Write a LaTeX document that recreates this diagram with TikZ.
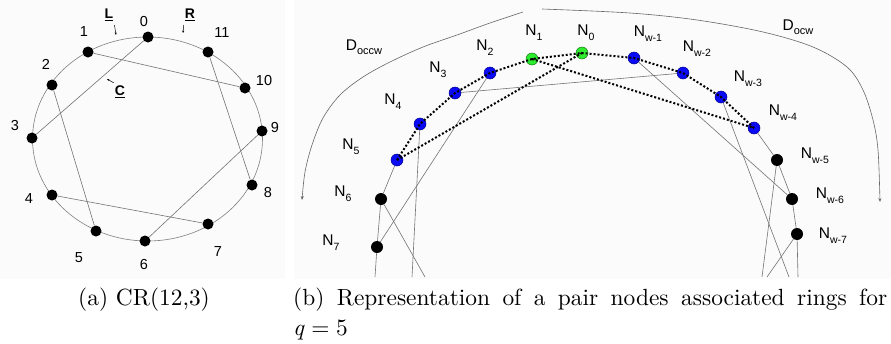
\documentclass[tikz,border=0pt]{standalone}
\usepackage{fontspec}
\newfontfamily\arial{Liberation Sans}
\newfontfamily\capfont{lmroman10-regular}[Extension=.otf,ItalicFont=lmroman10-italic]
\usetikzlibrary{arrows.meta}
\newcommand\Nl[1]{N\raisebox{-0.32em}{\fontsize{10.5}{10.5}\selectfont #1}}
\newcommand\Dl[1]{D\raisebox{-0.25em}{\fontsize{11}{11}\selectfont #1}}
\tikzset{
  adot/.style={circle,fill=black,inner sep=0pt,minimum size=11pt},
  bdot/.style={circle,fill=black,inner sep=0pt,minimum size=12pt},
  gdot/.style={bdot,fill={rgb,255:red,45;green,235;blue,45},draw={rgb,255:red,20;green,120;blue,20},line width=0.5pt},
  bldot/.style={bdot,fill={rgb,255:red,10;green,10;blue,245},draw={rgb,255:red,0;green,0;blue,140},line width=0.5pt},
  thinl/.style={draw=black!55,line width=0.6pt},
  ringl/.style={draw=black!50,line width=0.6pt},
  dotl/.style={draw=black,line width=2pt,dash pattern=on 2pt off 2pt},
  alab/.style={font=\arial\fontsize{14.5}{14.5}\selectfont,inner sep=0pt},
  blab/.style={font=\arial\fontsize{15.5}{15.5}\selectfont,inner sep=0pt},
  mlab/.style={font=\arial\bfseries\fontsize{14}{14}\selectfont,inner sep=0pt},
  sarr/.style={draw=black,line width=0.5pt,-{Stealth[length=2.5pt,width=2pt]}},
  darr/.style={draw=black!60,line width=0.6pt,-{Stealth[length=4pt,width=3pt]}},
  captxt/.style={font=\capfont\fontsize{23.4}{30}\selectfont,inner sep=0pt},
}
\begin{document}
\begin{tikzpicture}[x=1pt,y=-1pt]
\useasboundingbox (0,0) rectangle (891,343);
\fill[black!1.5] (0,0) rectangle (285,279);
\fill[black!1.5] (294,0) rectangle (891,279);
% ---------- (a)
\draw[ringl] (147.5,139) ellipse [x radius=115, y radius=102];
\foreach \n/\x/\y in {0/148/37,1/88/52,2/52/85,3/32/138,4/52/195,5/96/231,6/145/241,7/208/224,8/252/185,9/262/131,10/245/88,11/208/52}
  \node[adot] (a\n) at (\x,\y) {};
\foreach \a/\b in {1/10,0/3,2/5,11/8,4/7,9/6}
  \draw[thinl] (a\a) -- (a\b);
\foreach \n/\x/\y in {0/144/22,1/84/32,2/46/64,3/15/126,4/29/199,5/79/258,6/144/265,7/218/252,8/268/193,9/275/128,10/264/81,11/222/33}
  \node[alab] (t\n) at (\x,\y) {\n};
\node[mlab] (mL) at (109,15) {\underline{L}};
\node[mlab] (mR) at (190,15) {\underline{R}};
\node[mlab] (mC) at (120,92) {\underline{C}};
\coordinate (eL) at (116,35); \coordinate (eR) at (183,33); \coordinate (eC) at (107,79);
\draw[sarr] (mL.south east) ++(1,4) -- (eL);
\draw[sarr] (mR.south west) ++(-1,4) -- (eR);
\draw[sarr] (mC.north west) ++(-1,-3) -- (eC);
% ---------- (b)
\draw[darr] plot[smooth,tension=0.55] coordinates {(523,12) (490,23) (457,35) (423,47) (390,62) (363,77) (340,95) (323,118) (312,145) (305,172) (302,200)};
\draw[darr] plot[smooth,tension=0.55] coordinates {(542,9) (630,13) (697,20) (763,32) (813,47) (847,67) (863,90) (873,120) (878,150) (880,202)};
\node[gdot] (n1) at (532,59) {};
\node[gdot] (n0) at (582,53) {};
\foreach \n/\x/\y in {2/490/73,3/455/93,4/420/124,5/397/160}
  \node[bldot] (n\n) at (\x,\y) {};
\foreach \n/\x/\y in {1/634/58,2/683/73,3/721/97,4/754/128}
  \node[bldot] (w\n) at (\x,\y) {};
\node[bdot] (n6) at (381,199) {};
\node[bdot] (n7) at (377,247) {};
\node[bdot] (w5) at (777,160) {};
\node[bdot] (w6) at (792,199) {};
\node[bdot] (w7) at (797,234) {};
\coordinate (f1) at (375,277); \coordinate (f2) at (425,277); \coordinate (f3) at (412,277);
\coordinate (f4) at (762,277); \coordinate (f5) at (767,277); \coordinate (f6) at (789,277); \coordinate (f7) at (798,277);
\draw[thinl] (n5) -- (n6); \draw[thinl] (n6) -- (n7);
\draw[thinl] (n7) -- (f1); \draw[thinl] (n6) -- (f2); \draw[thinl] (n4) -- (f3);
\draw[thinl] (n7) -- (n2); \draw[thinl] (n3) -- (w2);
\draw[thinl] (w1) -- (w6); \draw[thinl] (w3) -- (f6);
\draw[thinl] (w4) -- (w5); \draw[thinl] (w5) -- (w6); \draw[thinl] (w6) -- (w7);
\draw[thinl] (w5) -- (f4); \draw[thinl] (w7) -- (f5); \draw[thinl] (w7) -- (f7);
\draw[dotl] (n5.center) -- (n4.center) -- (n3.center) -- (n2.center) -- (n1.center) -- (n0.center) -- (w1.center) -- (w2.center) -- (w3.center) -- (w4.center);
\draw[dotl] (n5.center) -- (n0.center);
\draw[dotl] (n1.center) -- (w4.center);
% labels
\node[blab] (l1) at (534,33) {\Nl{1}};
\node[blab] (l0) at (586,33) {\Nl{0}};
\node[blab] (l2) at (485,48) {\Nl{2}};
\node[blab] (l3) at (438,70) {\Nl{3}};
\node[blab] (l4) at (393,102) {\Nl{4}};
\node[blab] (l5) at (351,147) {\Nl{5}};
\node[blab] (l6) at (343,194) {\Nl{6}};
\node[blab] (l7) at (331,243) {\Nl{7}};
\node[blab] (k1) at (648,34) {\Nl{w-1}};
\node[blab] (k2) at (697,49) {\Nl{w-2}};
\node[blab] (k3) at (748,79) {\Nl{w-3}};
\node[blab] (k4) at (783,113) {\Nl{w-4}};
\node[blab] (k5) at (815,156) {\Nl{w-5}};
\node[blab] (k6) at (830,196) {\Nl{w-6}};
\node[blab] (k7) at (833,236) {\Nl{w-7}};
\node[blab] (dL) at (364,47) {\Dl{occw}};
\node[blab] (dR) at (798,27) {\Dl{ocw}};
% captions
\node[captxt,anchor=base west] (ca) at (78,305) {(a) CR(12,3)};
\node[captxt,anchor=base west] (cb) at (293,305) {\makebox[594pt][s]{(b) Representation of a pair nodes associated rings for}};
\node[captxt,anchor=base west] (cq) at (293,335) {\textit{q}\hspace{.28em}=\hspace{.28em}5};
\end{tikzpicture}
\end{document}
